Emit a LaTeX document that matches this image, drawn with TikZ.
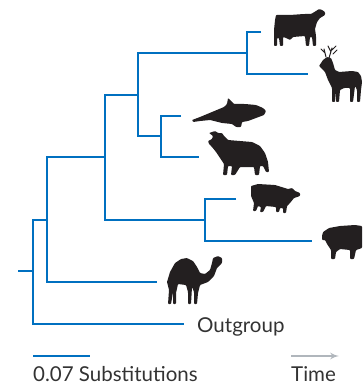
\documentclass[tikz,border=0pt]{standalone}
\usepackage{fontspec}
\setmainfont{Lato}
\usepackage{tikz}
\usetikzlibrary{arrows,positioning,calc}

\definecolor{treeblue}{RGB}{0,112,192}
\definecolor{timegray}{RGB}{176,182,188}
\definecolor{inkgray}{RGB}{51,51,51}
\definecolor{silh}{RGB}{35,31,32}

\begin{document}
\begin{tikzpicture}[x=1pt, y=-1pt,
    branch/.style={draw=treeblue, line width=2.8pt, line cap=butt, line join=miter},
    animal/.style={fill=silh, rounded corners=0.8pt},
    lbl/.style={inner sep=0pt, text=inkgray, font=\fontsize{20.5}{22}\selectfont}]
    \useasboundingbox (0,0) rectangle (362,385);

    % internal nodes of the tree
    \coordinate (base) at (18,271);
    \coordinate (n0) at (33,271);
    \coordinate (n1) at (47,220);
    \coordinate (n2) at (105,157);
    \coordinate (n3) at (205,220);
    \coordinate (n4) at (138,95);
    \coordinate (n5) at (247,53);
    \coordinate (n6) at (161,136);
    % tips
    \coordinate (tOut) at (184,324);
    \coordinate (tCamel) at (157,282);
    \coordinate (tPig) at (236,199);
    \coordinate (tPecc) at (312,241);
    \coordinate (tCow) at (261,32);
    \coordinate (tDeer) at (308,74);
    \coordinate (tWhale) at (181,116);
    \coordinate (tHippo) at (199,157);

    % branches
    \draw[branch] (base) -- (n0);
    \draw[branch] (n1) -| (n0) |- (tOut);
    \draw[branch] (n2) -| (n1) |- (tCamel);
    \draw[branch] (n4) -| (n2) |- (n3);
    \draw[branch] (tPig) -| (n3) |- (tPecc);
    \draw[branch] (n5) -| (n4) |- (n6);
    \draw[branch] (tCow) -| (n5) |- (tDeer);
    \draw[branch] (tWhale) -| (n6) |- (tHippo);

    \node[lbl, anchor=base west] (outgroup) at (197,332) {Outgroup};

    % scale bar and time axis
    \coordinate (sbA) at (33,356);
    \coordinate (sbB) at (90,356);
    \draw[branch] (sbA) -- (sbB);
    \node[lbl, anchor=base west] (subst) at (33,381) {0.07 Substitutions};
    \coordinate (tmA) at (291,356);
    \coordinate (tmB) at (339,356);
    \draw[timegray, line width=2pt, -latex'] (tmA) -- (tmB);
    \node[lbl, anchor=base west] (time) at (291,381) {Time};

    % cow
    \fill[animal] (276,15) -- (290,15) -- (304,14) -- (311,14) -- (316,11)
        -- (319,9) -- (322,10) -- (325,12) -- (325,15) -- (320,18) -- (317,22)
        -- (315,29) -- (316,36) -- (316,46) -- (313,46) -- (312,37) -- (310,37)
        -- (309,46) -- (306,46) -- (305,36) -- (293,37) -- (290,40) -- (286,38)
        -- (283,37) -- (283,46) -- (280,46) -- (279,38) -- (277,38) -- (277,46)
        -- (274,46) -- (274,30) -- (275,20) -- cycle;
    % deer
    \fill[animal] (319,66) -- (323,60) -- (327,57) -- (331,58) -- (333,63)
        -- (335,70) -- (339,72) -- (352,71) -- (358,72) -- (361,76) -- (362,82)
        -- (361,90) -- (360,102) -- (357,102) -- (357,90) -- (355,86) -- (353,102)
        -- (350,102) -- (350,88) -- (344,88) -- (340,90) -- (339,102) -- (336,102)
        -- (336,91) -- (335,102) -- (332,102) -- (332,88) -- (328,80) -- (325,72)
        -- (321,68) -- cycle;
    \draw[silh, line width=1pt, line cap=round] (329,58) -- (332,48)
        (331,52) -- (328,46) (332,50) -- (336,46) (333,54) -- (337,50)
        (326,57) -- (324,49) (325,53) -- (321,49);
    % whale
    \fill[animal] (192,120) -- (200,117) -- (212,112) -- (224,107) -- (227,104)
        -- (228,98) -- (231,101) -- (234,104) -- (245,104) -- (256,105)
        -- (263,108) -- (266,111) -- (264,115) -- (256,118) -- (248,121)
        -- (242,122) -- (241,127) -- (236,127) -- (232,124) -- (222,123)
        -- (210,120) -- (200,121) -- (193,122) -- cycle;
    % hippo
    \fill[animal] (209,133) -- (215,131) -- (218,133) -- (222,133) -- (224,136)
        -- (228,140) -- (240,141) -- (252,142) -- (260,146) -- (265,153)
        -- (268,162) -- (269,172) -- (266,172) -- (263,166) -- (260,166)
        -- (259,175) -- (255,175) -- (254,167) -- (240,167) -- (235,175)
        -- (231,175) -- (232,166) -- (228,166) -- (227,175) -- (223,175)
        -- (224,164) -- (220,158) -- (216,152) -- (212,147) -- (209,144)
        -- (208,141) -- (212,139) -- (213,136) -- cycle;
    % pig
    \fill[animal] (251,186) -- (258,184) -- (275,185) -- (288,189) -- (292,188)
        -- (295,191) -- (300,193) -- (300,196) -- (294,198) -- (290,203)
        -- (287,206) -- (286,213) -- (283,213) -- (283,208) -- (280,208)
        -- (279,212) -- (276,212) -- (276,207) -- (266,206) -- (263,212)
        -- (260,212) -- (261,207) -- (258,206) -- (256,211) -- (253,211)
        -- (254,203) -- (251,196) -- cycle;
    % peccary
    \fill[animal] (322,236) -- (323,232) -- (329,228) -- (340,226) -- (355,225)
        -- (362,226) -- (362,248) -- (356,250) -- (354,259) -- (350,259)
        -- (350,250) -- (340,249) -- (336,252) -- (335,259) -- (331,259)
        -- (331,250) -- (327,244) -- (325,240) -- (322,240) -- cycle;
    % camel
    \fill[animal] (167,282) -- (170,272) -- (175,263) -- (181,259) -- (187,258)
        -- (193,261) -- (197,267) -- (200,273) -- (205,274) -- (210,270)
        -- (212,263) -- (213,258) -- (218,256) -- (222,258) -- (222,263)
        -- (219,266) -- (217,268) -- (214,276) -- (208,282) -- (200,285)
        -- (198,293) -- (197,304) -- (194,304) -- (194,292) -- (192,287)
        -- (191,304) -- (188,304) -- (188,292) -- (186,285) -- (178,284)
        -- (176,293) -- (176,304) -- (173,304) -- (173,292) -- (171,304)
        -- (168,304) -- (169,290) -- cycle;

\end{tikzpicture}
\end{document}
